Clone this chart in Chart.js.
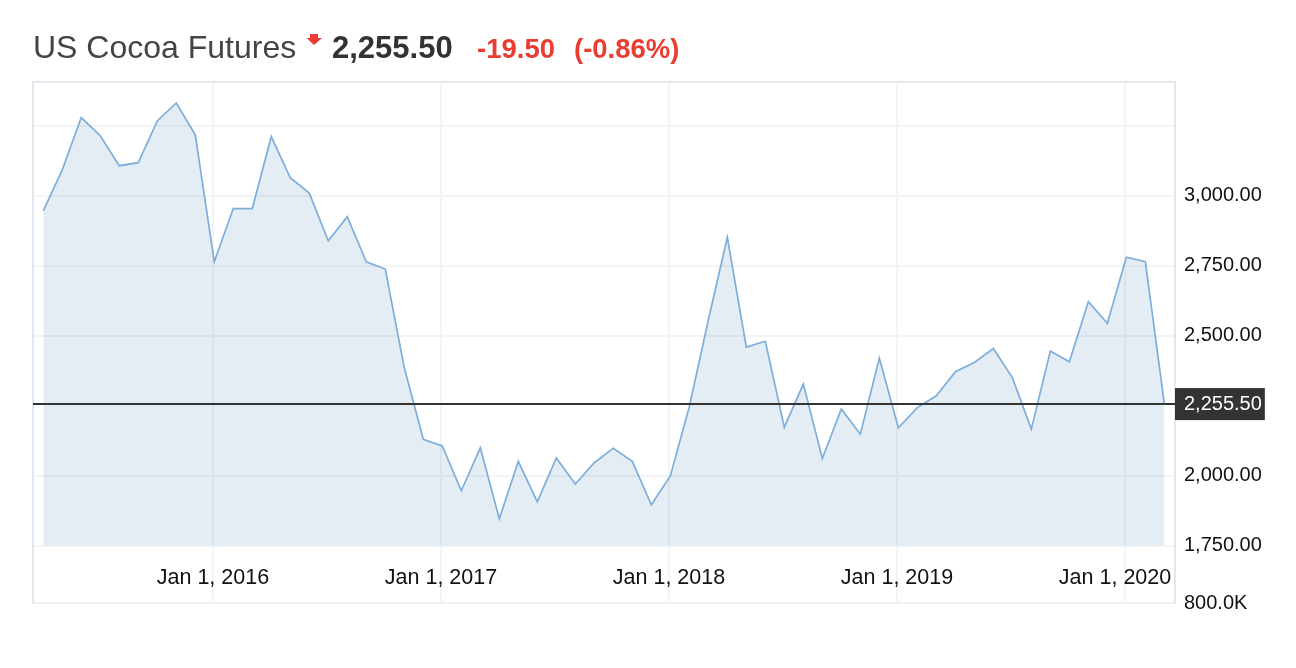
<!DOCTYPE html>
<html>
<head>
<meta charset="utf-8">
<script src="https://cdn.jsdelivr.net/npm/chart.js@4.4.1/dist/chart.umd.min.js"></script>
<style>
html,body{margin:0;padding:0;background:#fff;}
#wrap{position:relative;width:1296px;height:668px;overflow:hidden;font-family:"Liberation Sans",Arial,Helvetica,sans-serif;}
#c{position:absolute;left:0;top:0;}
.h{position:absolute;line-height:1;white-space:nowrap;}
</style>
</head>
<body>
<div id="wrap">
<canvas id="c" width="1296" height="668"></canvas>
<div id="tTitle" class="h" style="left:33px;top:31px;font-size:32px;color:#444;"></div>
<svg style="position:absolute;left:306px;top:33px" width="17" height="14"><polygon points="4,1 12,1 12,5 16,5 8,12 0.5,5 4,5" fill="#e93d31"/></svg>
<div id="tPrice" class="h" style="left:332px;top:32px;font-size:31px;font-weight:bold;color:#333;"></div>
<div id="tChg" class="h" style="left:477px;top:35px;font-size:27.5px;font-weight:bold;color:#e93d31;"></div>
<div id="tPct" class="h" style="left:574px;top:35px;font-size:27.5px;font-weight:bold;color:#e93d31;"></div>
</div>
<script>
// ---- data ----
const TITLE = 'US Cocoa Futures';
const LAST_PRICE = 2255.50;
const CHANGE = '-19.50';
const CHANGE_PCT = '(-0.86%)';

// monthly closes, Apr 2015 .. Mar 2020 (x = month index 0..59)
const PRICES = [
  2946, 3092, 3279, 3214, 3107, 3118, 3267, 3331, 3217, 2764,
  2954, 2954, 3211, 3064, 3009, 2839, 2925, 2764, 2738, 2385,
  2130, 2106, 1946, 2099, 1846, 2051, 1906, 2063, 1970, 2046,
  2098, 2051, 1896, 1999, 2246, 2556, 2851, 2459, 2480, 2173,
  2327, 2061, 2238, 2148, 2420, 2171, 2243, 2285, 2371, 2404,
  2454, 2350, 2166, 2445, 2407, 2621, 2544, 2780, 2764, LAST_PRICE
];
const X_TICK_INDEX = [8.93, 20.93, 32.93, 44.93, 56.93];
const X_TICK_LABELS = ['Jan 1, 2016', 'Jan 1, 2017', 'Jan 1, 2018', 'Jan 1, 2019', 'Jan 1, 2020'];
const Y_TICKS = [1750, 2000, 2500, 2750, 3000, 3250];
const Y_HIDDEN_LABELS = [3250];
const VOLUME_LABEL = '800.0K';

// axis ranges
const X_MIN = -0.54, X_MAX = 59.56;
const Y_MIN = 1545, Y_MAX = 3406;
const FILL_BASE = 1750;

document.getElementById('tTitle').textContent = TITLE;
document.getElementById('tPrice').textContent = LAST_PRICE.toLocaleString('en-US', {minimumFractionDigits: 2, maximumFractionDigits: 2});
document.getElementById('tChg').textContent = CHANGE;
document.getElementById('tPct').textContent = CHANGE_PCT;

const fmt = v => v.toLocaleString('en-US', {minimumFractionDigits: 2, maximumFractionDigits: 2});
const GRID = '#f3f4f6';
const FRAME = '#e3e8ee';
const LAST_I = X_TICK_INDEX.length - 1;
const xLabelTicks = {
  autoSkip: false, maxRotation: 0, mirror: true, padding: 12,
  color: '#111', font: {size: 21.5}
};

Chart.defaults.font.family = '"Liberation Sans", Arial, Helvetica, sans-serif';

new Chart(document.getElementById('c'), {
  type: 'line',
  data: {
    datasets: [
      {
        label: 'last',
        data: [{x: X_MIN, y: LAST_PRICE}, {x: X_MAX, y: LAST_PRICE}],
        borderColor: '#333333',
        borderWidth: 2,
        pointRadius: 0,
        fill: false,
        xAxisID: 'x', yAxisID: 'y'
      },
      {
        label: TITLE,
        data: PRICES.map((v, i) => ({x: i, y: v})),
        borderColor: '#7daedc',
        borderWidth: 1.7,
        backgroundColor: 'rgba(120,160,200,0.2)',
        fill: {value: FILL_BASE},
        pointRadius: 0,
        tension: 0,
        xAxisID: 'x', yAxisID: 'y'
      }
    ]
  },
  options: {
    responsive: false,
    animation: false,
    devicePixelRatio: 1,
    layout: {padding: {left: 33, top: 82, right: 0, bottom: 65}},
    plugins: {legend: {display: false}, tooltip: {enabled: false}},
    scales: {
      x: {
        type: 'linear', position: 'bottom', min: X_MIN, max: X_MAX,
        afterBuildTicks: s => { s.ticks = X_TICK_INDEX.map(v => ({value: v})); },
        afterFit: s => { s.height = 0; },
        ticks: Object.assign({}, xLabelTicks, {
          callback: (v, i) => (i === LAST_I ? '' : X_TICK_LABELS[i])
        }),
        grid: {color: GRID, lineWidth: 2, drawTicks: false},
        border: {display: true, color: '#f0f0f0', width: 1}
      },
      xLast: {
        type: 'linear', position: 'bottom', min: X_MIN, max: X_MAX,
        afterBuildTicks: s => { s.ticks = [{value: X_TICK_INDEX[LAST_I]}]; },
        afterFit: s => { s.height = 0; },
        ticks: Object.assign({}, xLabelTicks, {
          labelOffset: -10,
          callback: () => X_TICK_LABELS[LAST_I]
        }),
        grid: {display: false, drawTicks: false},
        border: {display: false}
      },
      xTop: {
        type: 'linear', position: 'top', min: X_MIN, max: X_MAX,
        afterFit: s => { s.height = 0; },
        ticks: {display: false},
        grid: {display: false, drawTicks: false},
        border: {display: true, color: FRAME, width: 2}
      },
      yLeft: {
        type: 'linear', position: 'left', min: Y_MIN, max: Y_MAX,
        afterFit: s => { s.width = 0; },
        ticks: {display: false},
        grid: {display: false, drawTicks: false},
        border: {display: true, color: FRAME, width: 2}
      },
      y: {
        type: 'linear', position: 'right', min: Y_MIN, max: Y_MAX,
        afterBuildTicks: s => {
          s.ticks = [Y_MIN].concat(Y_TICKS, [LAST_PRICE]).map(v => ({value: v}));
        },
        afterFit: s => { s.width = 121; },
        ticks: {
          autoSkip: false, padding: 9,
          font: {size: 20},
          color: c => (c.tick && c.tick.value === LAST_PRICE) ? '#ffffff' : '#111111',
          showLabelBackdrop: c => !!(c.tick && c.tick.value === LAST_PRICE),
          backdropColor: '#333333',
          backdropPadding: {top: 4, bottom: 4, left: 10, right: 3},
          callback: v => {
            if (v === Y_MIN) return VOLUME_LABEL;
            if (Y_HIDDEN_LABELS.includes(v)) return '';
            return fmt(v);
          }
        },
        grid: {
          drawTicks: false,
          lineWidth: 2,
          color: c => {
            if (!c.tick) return GRID;
            if (c.tick.value === LAST_PRICE) return 'rgba(0,0,0,0)';
            if (c.tick.value === Y_MIN) return '#f0f0f0';
            return GRID;
          }
        },
        border: {display: true, color: FRAME, width: 2}
      }
    }
  }
});
</script>
</body>
</html>
